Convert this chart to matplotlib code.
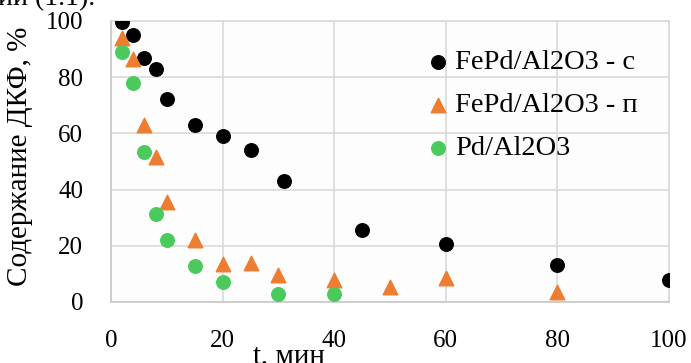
import numpy as np
import matplotlib.pyplot as plt

plt.rcParams['font.family'] = ['Liberation Serif', 'DejaVu Serif']

# ─────────────────────────────────────────
# DATA
# ─────────────────────────────────────────
t_fepd_c = [2, 4, 6, 8, 10, 15, 20, 25, 31, 45, 60, 80, 100]
y_fepd_c = [99.7, 95, 87, 83, 72.4, 63, 59, 54, 43, 25.5, 20.6, 13, 8]

t_fepd_p = [2, 4, 6, 8, 10, 15, 20, 25, 30, 40, 50, 60, 80]
y_fepd_p = [94, 86.5, 63, 51.5, 35.5, 22, 13.5, 14, 9.5, 8, 5.5, 8.5, 3.5]

t_pd = [2, 4, 6, 8, 10, 15, 20, 30, 40]
y_pd = [88.8, 78, 53.3, 31.2, 22.2, 12.8, 7, 3, 3]

series_labels = ['FePd/Al2O3 - c', 'FePd/Al2O3 - п', 'Pd/Al2O3']
x_ticks = [0, 20, 40, 60, 80, 100]
y_ticks = [0, 20, 40, 60, 80, 100]

# ─────────────────────────────────────────
# PLOT
# ─────────────────────────────────────────
fig = plt.figure(figsize=(6.91, 3.63), dpi=100)
fig.patch.set_facecolor('white')
ax = fig.add_axes([111 / 691, 1 - 302 / 363, (669 - 111) / 691, (302 - 21) / 363])
ax.set_facecolor('#fdfdfd')

ax.scatter(t_fepd_c, y_fepd_c, s=95, color='black', marker='o', label=series_labels[0], zorder=3)
ax.scatter(t_fepd_p, y_fepd_p, s=110, color='#ed7d31', marker='^', label=series_labels[1], zorder=3)
ax.scatter(t_pd, y_pd, s=95, color='#4cc95c', marker='o', label=series_labels[2], zorder=3)

ax.set_xlim(0, 100)
ax.set_ylim(0, 100)
ax.set_xticks(x_ticks)
ax.set_yticks(y_ticks)
ax.tick_params(length=0, labelsize=18)
ax.tick_params(axis='x', pad=20)
ax.tick_params(axis='y', pad=20)
ax.grid(True, color='#d9d9d9', linewidth=1.2, zorder=0)
for sp in ax.spines.values():
    sp.set_color('#d9d9d9')
    sp.set_linewidth(1.2)
ax.spines['left'].set_color('#c8c8c8')
ax.spines['bottom'].set_color('#c8c8c8')

ax.set_ylabel('Содержание ДКФ, %', fontsize=21)
ax.yaxis.set_label_coords((33 - 111) / 558, 0.52)
ax.set_xlabel('t, мин', fontsize=21)
ax.xaxis.set_label_coords((289 - 111) / 558, -41 / 281)

leg = ax.legend(loc='upper right', bbox_to_anchor=(0.975, 0.96), frameon=False,
                fontsize=20.5, handletextpad=0.1, handlelength=1.0,
                labelspacing=0.6, borderaxespad=0.2, scatterpoints=1)

# cut-off text from the document above the chart
fig.text(95 / 691, 1.005, 'ии (1.1).', fontsize=20, va='center', ha='right')

plt.savefig('out.png', dpi=100)
plt.close()
